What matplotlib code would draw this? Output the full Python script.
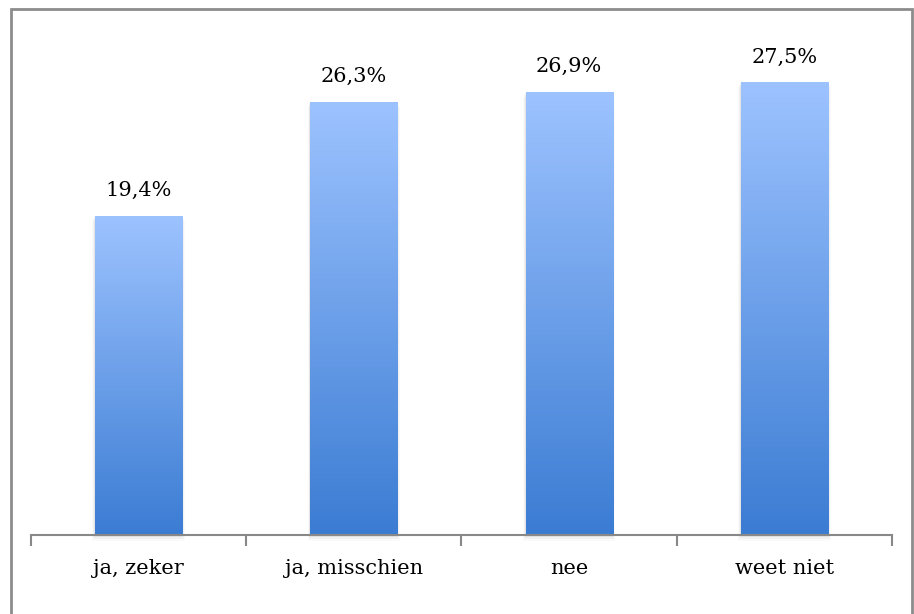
import matplotlib
matplotlib.use("Agg")
import matplotlib.pyplot as plt
import numpy as np
from matplotlib.colors import LinearSegmentedColormap
from matplotlib.patches import Rectangle

categories = ["ja, zeker", "ja, misschien", "nee", "weet niet"]
values = [19.4, 26.3, 26.9, 27.5]
labels = ["19,4%", "26,3%", "26,9%", "27,5%"]

plt.rcParams["font.family"] = ["DejaVu Serif"]

fig = plt.figure(figsize=(9.14, 6.14), dpi=100)
ax = fig.add_axes([0.0339, 0.1287, 0.942, 0.8046])

# gradient from dark blue at the base to light blue at the top
cmap = LinearSegmentedColormap.from_list("bluegrad", ["#3b7cd3", "#9dc3ff"])
grad = np.linspace(0, 1, 256).reshape(-1, 1)

width = 0.405
x = np.arange(len(categories))
bars = ax.bar(x, values, width=width, color="none", edgecolor="none", zorder=3)

for rect, val, lab in zip(bars, values, labels):
    x0 = rect.get_x()
    # soft shadow around the bar
    for i, a in enumerate([0.05, 0.035, 0.02]):
        d = 0.004 * (i + 1)
        ax.add_patch(Rectangle((x0 - d, -0.12 * (i + 1)),
                               width + 2 * d, val + 0.05,
                               facecolor="black", alpha=a, edgecolor="none",
                               zorder=2, clip_on=False))
    im = ax.imshow(grad, cmap=cmap, origin="lower", aspect="auto",
                   extent=[x0, x0 + width, 0, val], zorder=3)
    im.set_clip_path(rect)
    ax.text(rect.get_x() + width / 2, val + 0.95, lab, ha="center", va="bottom",
            fontsize=15, color="#000000")

ax.set_xlim(-0.5, len(categories) - 0.5)
ax.set_ylim(0, 30)
ax.set_yticks([])
for s in ["top", "right", "left"]:
    ax.spines[s].set_visible(False)
ax.spines["bottom"].set_color("#888888")
ax.spines["bottom"].set_linewidth(1.5)
ax.spines["bottom"].set_zorder(4)

ax.set_xticks(np.arange(-0.5, len(categories), 1.0))
ax.set_xticklabels([])
ax.set_xticks(x, minor=True)
ax.set_xticklabels(categories, minor=True, fontsize=15, color="#000000")
ax.tick_params(axis="x", which="major", length=8, width=1.5, color="#888888")
ax.tick_params(axis="x", which="minor", length=0, pad=17)

# outer chart frame
fig.patches.append(Rectangle((11 / 914, -0.05), 901 / 914, 1.05 - 9 / 614,
                             transform=fig.transFigure, fill=False,
                             edgecolor="#8c8c8c", linewidth=2))

fig.savefig("out.png", dpi=100)
